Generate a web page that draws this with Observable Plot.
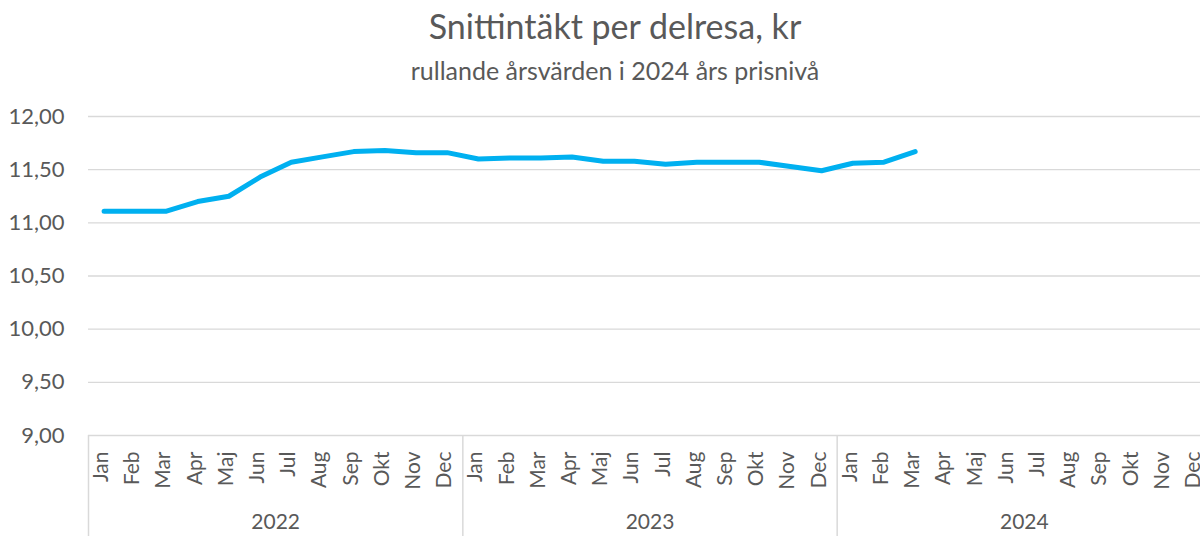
<!DOCTYPE html>
<html><head><meta charset="utf-8">
<script src="https://cdn.jsdelivr.net/npm/d3@7"></script>
<script src="https://cdn.jsdelivr.net/npm/@observablehq/plot@0.6"></script>
<style>
html,body{margin:0;padding:0;overflow:hidden;background:#fff;width:1200px;height:536px}
#wrap{width:1232px;font-family:Lato,"Open Sans",sans-serif;color:#595959;position:relative}
#head{height:90px;width:1230px;text-align:center;position:relative}
#title{position:absolute;left:0;right:0;top:5px;font-size:34px;line-height:42px}
#sub{position:absolute;left:0;right:0;top:55px;font-size:25px;line-height:30px}
#chart svg{display:block}
</style></head>
<body><div id="wrap">
<div id="head"><div id="title">Snittintäkt per delresa, kr</div><div id="sub">rullande årsvärden i 2024 års prisnivå</div></div>
<div id="chart"></div></div>
<script>
const years = ["2022", "2023", "2024"];
const months = ["Jan","Feb","Mar","Apr","Maj","Jun","Jul","Aug","Sep","Okt","Nov","Dec"];
const values2022 = [11.11, 11.11, 11.11, 11.20, 11.25, 11.43, 11.57, 11.62, 11.67, 11.68, 11.66, 11.66];
const values2023 = [11.60, 11.61, 11.61, 11.62, 11.58, 11.58, 11.55, 11.57, 11.57, 11.57, 11.53, 11.49];
const values2024 = [11.56, 11.57, 11.67];
const yTicks = [9, 9.5, 10, 10.5, 11, 11.5, 12];

const seriesByYear = {"2022": values2022, "2023": values2023, "2024": values2024};
const keys = years.flatMap(y => months.map(m => y + "-" + m));
const data = years.flatMap(y => seriesByYear[y].map((v, i) => ({key: y + "-" + months[i], value: v})));
const monthRows = keys.map(k => ({key: k, label: k.split("-")[1]}));

const W = 1232, ML = 88, MR = 21;
const bw = (W - ML - MR) / keys.length;
const fmt = d => d3.format(".2f")(d).replace(".", ",");
const txt = "#595959", grid = "#d9d9d9";

const chart = Plot.plot({
  width: W, height: 446,
  marginLeft: ML, marginRight: MR, marginTop: 26, marginBottom: 101,
  style: {fontFamily: 'Lato, "Open Sans", sans-serif', background: "#fff", color: txt},
  x: {type: "band", domain: keys, padding: 0, round: false, axis: null},
  y: {domain: [9, 12], axis: null},
  marks: [
    Plot.ruleY(yTicks, {stroke: grid, strokeWidth: 1.3}),
    Plot.text(yTicks, {y: d => d, text: fmt, frameAnchor: "left", dx: -24, textAnchor: "end", fontSize: 22, fill: txt}),
    Plot.ruleX(years.map(y => y + "-Jan"), {x: d => d, y1: 9, y2: 8, dx: -bw / 2, stroke: grid, strokeWidth: 1.5}),
    Plot.ruleX([keys[keys.length - 1]], {x: d => d, y1: 9, y2: 8, dx: bw / 2, stroke: grid, strokeWidth: 1.5}),
    Plot.text(monthRows, {x: "key", text: "label", frameAnchor: "bottom", dx: 4, dy: 16, rotate: -90, textAnchor: "end", fontSize: 21, fill: txt}),
    Plot.text(years, {x: d => d + "-Jun", text: d => d, frameAnchor: "bottom", dy: 93, dx: bw / 2, fontSize: 21, fill: txt}),
    Plot.line(data, {x: "key", y: "value", stroke: "#00b0f0", strokeWidth: 5, strokeLinecap: "round", strokeLinejoin: "round"})
  ]
});
document.getElementById("chart").appendChild(chart);
</script>
</body></html>
